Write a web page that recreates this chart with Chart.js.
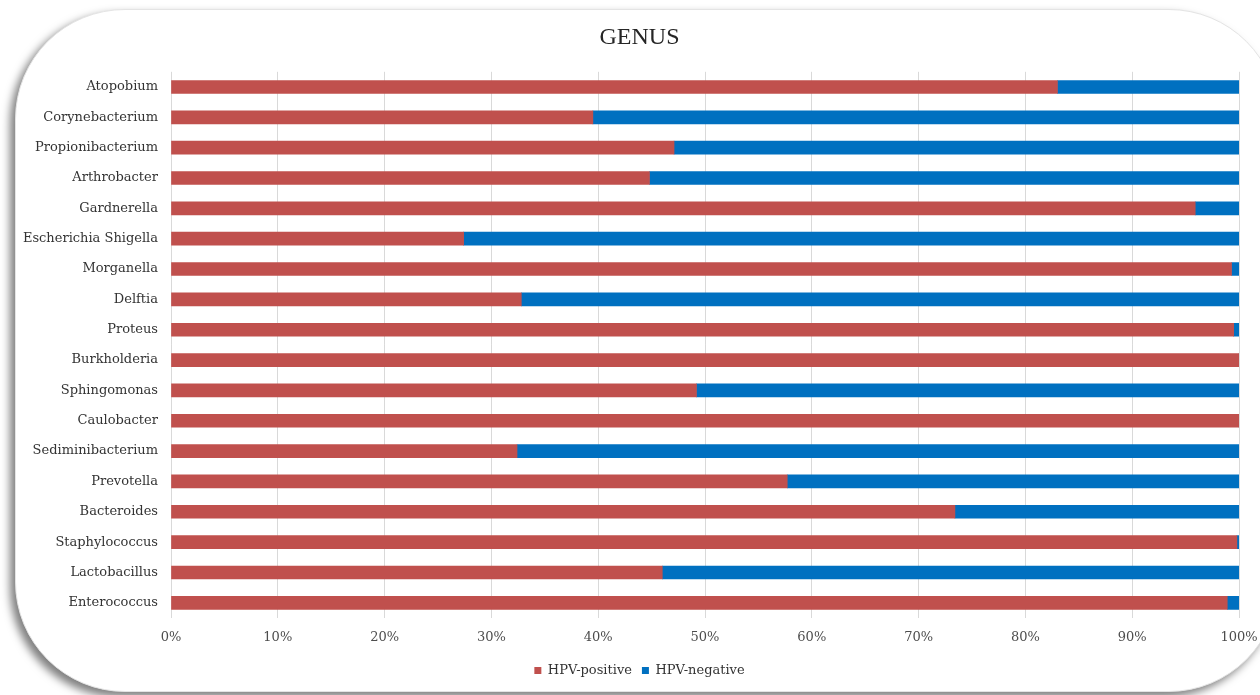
<!DOCTYPE html>
<html lang="en">
<head>
<meta charset="UTF-8">
<title>GENUS</title>
<script src="https://cdn.jsdelivr.net/npm/chart.js"></script>
<style>
    html, body { margin: 0; padding: 0; background: #ffffff; overflow: hidden; }
    #frame {
        position: absolute; left: 15px; top: 9px; width: 1262px; height: 681px;
        background: #ffffff; border: 1px solid #e4e4e4; border-radius: 110px;
        box-shadow: -5px 5px 9px rgba(0,0,0,0.5);
    }
    #wrap { position: absolute; left: 0; top: 0; width: 1260px; height: 695px; }
</style>
</head>
<body>
<div id="frame"></div>
<div id="wrap"><canvas id="myChart"></canvas></div>
<script>
    // genus names, top to bottom
    const genera = ['Atopobium', 'Corynebacterium', 'Propionibacterium', 'Arthrobacter', 'Gardnerella',
        'Escherichia Shigella', 'Morganella', 'Delftia', 'Proteus', 'Burkholderia', 'Sphingomonas',
        'Caulobacter', 'Sediminibacterium', 'Prevotella', 'Bacteroides', 'Staphylococcus',
        'Lactobacillus', 'Enterococcus'];
    // share of reads (%)
    const hpvPositive = [83.0, 39.5, 47.1, 44.8, 95.9, 27.4, 99.3, 32.8, 99.5, 100, 49.2, 100, 32.4, 57.7, 73.4, 99.8, 46.0, 98.9];
    const hpvNegative = hpvPositive.map(v => Math.round((100 - v) * 10) / 10);
    const xTicks = ['0%', '10%', '20%', '30%', '40%', '50%', '60%', '70%', '80%', '90%', '100%'];

    const serif = 'DejaVu Serif';

    // title and legend sit a bit right of the canvas centre in the original
    const shiftCentre = {
        id: 'shiftCentre',
        afterLayout(chart) {
            [chart.titleBlock, chart.legend].forEach(b => {
                if (b) { b.left += 20; b.right += 20; }
            });
        }
    };

    const ctx = document.querySelector('#myChart');
    new Chart(ctx, {
        type: 'bar',
        data: {
            labels: genera,
            datasets: [
                { label: 'HPV-positive', data: hpvPositive, backgroundColor: '#C0504D', barThickness: 13 },
                { label: 'HPV-negative', data: hpvNegative, backgroundColor: '#0070C0', barThickness: 13 }
            ]
        },
        options: {
            indexAxis: 'y',
            responsive: true,
            maintainAspectRatio: false,
            animation: false,
            layout: { padding: { left: 0, right: 21, top: 0, bottom: 8 } },
            scales: {
                x: {
                    stacked: true,
                    min: 0,
                    max: 100,
                    afterFit: (scale) => {
                        scale.height = 36;
                        scale.paddingRight = 0;
                        scale.paddingLeft = 0;
                    },
                    ticks: {
                        stepSize: 10,
                        padding: 12,
                        color: '#4d4d4d',
                        font: { family: serif, size: 13 },
                        callback: (value, i) => xTicks[i]
                    },
                    grid: { color: '#d9d9d9', drawTicks: false },
                    border: { display: false }
                },
                y: {
                    stacked: true,
                    afterFit: (scale) => { scale.width = 171; },
                    ticks: {
                        padding: 13,
                        color: '#333333',
                        font: { family: serif, size: 13 }
                    },
                    grid: { display: false, drawTicks: false },
                    border: { display: false }
                }
            },
            plugins: {
                title: {
                    display: true,
                    text: 'GENUS',
                    color: '#262626',
                    font: { family: 'Liberation Serif', size: 24, weight: 'normal' },
                    padding: { top: 23, bottom: 20 }
                },
                legend: {
                    position: 'bottom',
                    labels: {
                        boxWidth: 7,
                        boxHeight: 7,
                        color: '#333333',
                        padding: 10,
                        font: { family: serif, size: 13 }
                    }
                },
                tooltip: { enabled: false }
            }
        },
        plugins: [shiftCentre]
    });
</script>
</body>
</html>
